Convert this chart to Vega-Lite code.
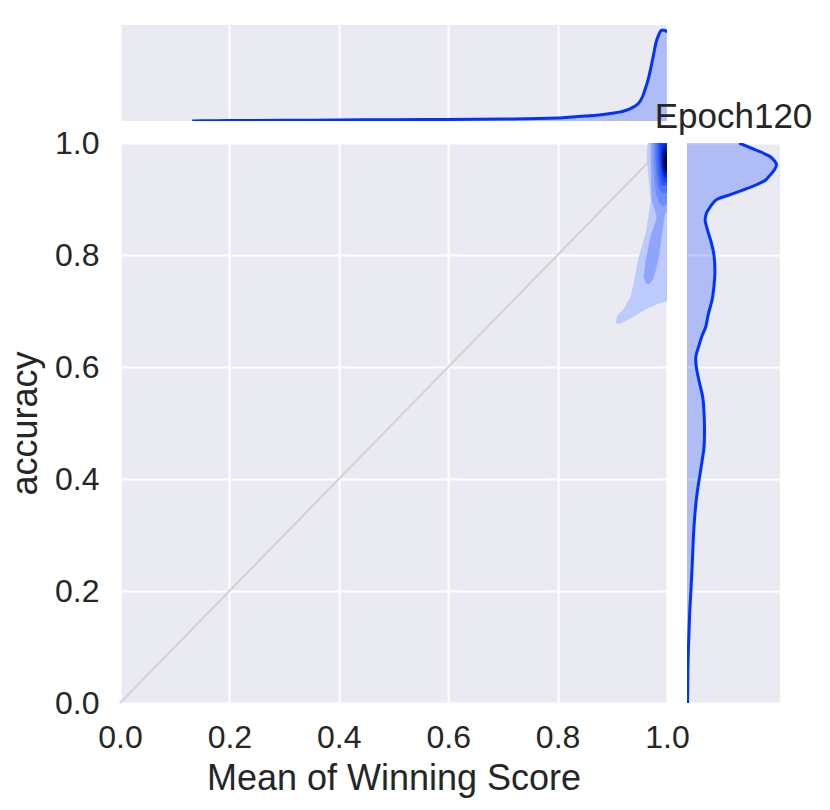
{
  "$schema": "https://vega.github.io/schema/vega-lite/v6.json",
  "padding": {"left": 7, "top": 25, "right": 5, "bottom": 5},
  "background": "white",
  "config": {
    "font": "Liberation Sans",
    "view": {"fill": "#eaeaf2", "stroke": null},
    "axis": {"gridColor": "white", "gridWidth": 2, "domain": false, "ticks": false, "labelFont": "Liberation Sans", "labelFontSize": 32, "labelColor": "#262626", "titleFont": "Liberation Sans", "titleFontSize": 36, "titleColor": "#262626", "titleFontWeight": "normal", "labelFlush": false}
  },
  "datasets": {
    "top": [
      {"score": 0.132, "density": 0.001}, {"score": 0.15, "density": 0.002}, {"score": 0.2, "density": 0.004},
      {"score": 0.3, "density": 0.007}, {"score": 0.4, "density": 0.011}, {"score": 0.5, "density": 0.014},
      {"score": 0.6, "density": 0.016}, {"score": 0.7, "density": 0.02}, {"score": 0.8, "density": 0.03},
      {"score": 0.82, "density": 0.04}, {"score": 0.85, "density": 0.052}, {"score": 0.88, "density": 0.065},
      {"score": 0.9, "density": 0.08}, {"score": 0.915, "density": 0.095}, {"score": 0.93, "density": 0.12},
      {"score": 0.94, "density": 0.15}, {"score": 0.95, "density": 0.2}, {"score": 0.955, "density": 0.25},
      {"score": 0.96, "density": 0.33}, {"score": 0.965, "density": 0.42}, {"score": 0.97, "density": 0.54},
      {"score": 0.975, "density": 0.68}, {"score": 0.98, "density": 0.82}, {"score": 0.985, "density": 0.9},
      {"score": 0.99, "density": 0.945}, {"score": 0.995, "density": 0.945}, {"score": 1.0, "density": 0.925}
    ],
    "right": [
      {"acc": 1.0, "density": 0.56}, {"acc": 0.9875, "density": 0.74}, {"acc": 0.975, "density": 0.9},
      {"acc": 0.961, "density": 0.962}, {"acc": 0.95, "density": 0.93}, {"acc": 0.94, "density": 0.88},
      {"acc": 0.934, "density": 0.846}, {"acc": 0.925, "density": 0.74}, {"acc": 0.916, "density": 0.6},
      {"acc": 0.907, "density": 0.45}, {"acc": 0.898, "density": 0.31}, {"acc": 0.886, "density": 0.25},
      {"acc": 0.875, "density": 0.21}, {"acc": 0.862, "density": 0.195}, {"acc": 0.845, "density": 0.22},
      {"acc": 0.82, "density": 0.265}, {"acc": 0.8, "density": 0.29}, {"acc": 0.768, "density": 0.3},
      {"acc": 0.745, "density": 0.29}, {"acc": 0.72, "density": 0.27}, {"acc": 0.695, "density": 0.23},
      {"acc": 0.671, "density": 0.2}, {"acc": 0.655, "density": 0.16}, {"acc": 0.639, "density": 0.13},
      {"acc": 0.618, "density": 0.095}, {"acc": 0.6, "density": 0.1}, {"acc": 0.575, "density": 0.13},
      {"acc": 0.545, "density": 0.17}, {"acc": 0.518, "density": 0.183}, {"acc": 0.49, "density": 0.188},
      {"acc": 0.457, "density": 0.183}, {"acc": 0.43, "density": 0.16}, {"acc": 0.398, "density": 0.13},
      {"acc": 0.37, "density": 0.105}, {"acc": 0.339, "density": 0.086}, {"acc": 0.3, "density": 0.07},
      {"acc": 0.25, "density": 0.057}, {"acc": 0.2, "density": 0.042}, {"acc": 0.161, "density": 0.029},
      {"acc": 0.12, "density": 0.02}, {"acc": 0.071, "density": 0.011}, {"acc": 0.03, "density": 0.008},
      {"acc": 0.0, "density": 0.006}
    ],
    "diag": [{"x": 0, "y": 0}, {"x": 1, "y": 1}],
    "contours": [
      {"level": 1, "i": 0, "x": 0.9653, "y": 1.0}, {"level": 1, "i": 1, "x": 0.9634, "y": 0.975},
      {"level": 1, "i": 2, "x": 0.9671, "y": 0.9339}, {"level": 1, "i": 3, "x": 0.9708, "y": 0.8982},
      {"level": 1, "i": 4, "x": 0.9671, "y": 0.8714}, {"level": 1, "i": 5, "x": 0.9616, "y": 0.8393},
      {"level": 1, "i": 6, "x": 0.9488, "y": 0.7964}, {"level": 1, "i": 7, "x": 0.9397, "y": 0.75},
      {"level": 1, "i": 8, "x": 0.9336, "y": 0.725}, {"level": 1, "i": 9, "x": 0.9214, "y": 0.7036},
      {"level": 1, "i": 10, "x": 0.9092, "y": 0.6911}, {"level": 1, "i": 11, "x": 0.9068, "y": 0.6786},
      {"level": 1, "i": 12, "x": 0.9123, "y": 0.6768}, {"level": 1, "i": 13, "x": 0.9305, "y": 0.6857},
      {"level": 1, "i": 14, "x": 0.9611, "y": 0.7036}, {"level": 1, "i": 15, "x": 0.9854, "y": 0.7143},
      {"level": 1, "i": 16, "x": 1.0, "y": 0.7179}, {"level": 1, "i": 17, "x": 1.0, "y": 1.0},

      {"level": 2, "i": 0, "x": 0.9708, "y": 1.0}, {"level": 2, "i": 1, "x": 0.9708, "y": 0.9696},
      {"level": 2, "i": 2, "x": 0.9717, "y": 0.9339}, {"level": 2, "i": 3, "x": 0.9726, "y": 0.8982},
      {"level": 2, "i": 4, "x": 0.9781, "y": 0.8804}, {"level": 2, "i": 5, "x": 0.9817, "y": 0.8696},
      {"level": 2, "i": 6, "x": 0.9793, "y": 0.8589}, {"level": 2, "i": 7, "x": 0.9702, "y": 0.8321},
      {"level": 2, "i": 8, "x": 0.9616, "y": 0.7911}, {"level": 2, "i": 9, "x": 0.958, "y": 0.7607},
      {"level": 2, "i": 10, "x": 0.9616, "y": 0.75}, {"level": 2, "i": 11, "x": 0.9671, "y": 0.7482},
      {"level": 2, "i": 12, "x": 0.9744, "y": 0.7571}, {"level": 2, "i": 13, "x": 0.9793, "y": 0.7732},
      {"level": 2, "i": 14, "x": 0.9854, "y": 0.8}, {"level": 2, "i": 15, "x": 0.989, "y": 0.8268},
      {"level": 2, "i": 16, "x": 0.9927, "y": 0.8536}, {"level": 2, "i": 17, "x": 0.9954, "y": 0.8714},
      {"level": 2, "i": 18, "x": 1.0, "y": 0.8804}, {"level": 2, "i": 19, "x": 1.0, "y": 1.0},

      {"level": 3, "i": 0, "x": 0.9757, "y": 1.0}, {"level": 3, "i": 1, "x": 0.9757, "y": 0.9696},
      {"level": 3, "i": 2, "x": 0.9775, "y": 0.9339}, {"level": 3, "i": 3, "x": 0.9812, "y": 0.9071},
      {"level": 3, "i": 4, "x": 0.9865, "y": 0.8929}, {"level": 3, "i": 5, "x": 0.9927, "y": 0.8875},
      {"level": 3, "i": 6, "x": 1.0, "y": 0.8915}, {"level": 3, "i": 7, "x": 1.0, "y": 1.0},

      {"level": 4, "i": 0, "x": 0.9795, "y": 1.0}, {"level": 4, "i": 1, "x": 0.9798, "y": 0.9696},
      {"level": 4, "i": 2, "x": 0.9818, "y": 0.9429}, {"level": 4, "i": 3, "x": 0.9848, "y": 0.9214},
      {"level": 4, "i": 4, "x": 0.9905, "y": 0.911}, {"level": 4, "i": 5, "x": 1.0, "y": 0.911},
      {"level": 4, "i": 6, "x": 1.0, "y": 1.0},

      {"level": 5, "i": 0, "x": 0.9838, "y": 1.0}, {"level": 5, "i": 1, "x": 0.9843, "y": 0.9696},
      {"level": 5, "i": 2, "x": 0.9862, "y": 0.9429}, {"level": 5, "i": 3, "x": 0.9903, "y": 0.9255},
      {"level": 5, "i": 4, "x": 1.0, "y": 0.9235}, {"level": 5, "i": 5, "x": 1.0, "y": 1.0},

      {"level": 6, "i": 0, "x": 0.9868, "y": 1.0}, {"level": 6, "i": 1, "x": 0.9878, "y": 0.9696},
      {"level": 6, "i": 2, "x": 0.99, "y": 0.9482}, {"level": 6, "i": 3, "x": 0.994, "y": 0.9325},
      {"level": 6, "i": 4, "x": 1.0, "y": 0.9305}, {"level": 6, "i": 5, "x": 1.0, "y": 1.0},

      {"level": 7, "i": 0, "x": 0.9925, "y": 0.996}, {"level": 7, "i": 1, "x": 0.99, "y": 0.985},
      {"level": 7, "i": 2, "x": 0.99, "y": 0.9696}, {"level": 7, "i": 3, "x": 0.992, "y": 0.9505},
      {"level": 7, "i": 4, "x": 0.996, "y": 0.9395}, {"level": 7, "i": 5, "x": 1.0, "y": 0.9395},
      {"level": 7, "i": 6, "x": 1.0, "y": 0.998},

      {"level": 8, "i": 0, "x": 0.9955, "y": 0.991}, {"level": 8, "i": 1, "x": 0.993, "y": 0.98},
      {"level": 8, "i": 2, "x": 0.993, "y": 0.9607}, {"level": 8, "i": 3, "x": 0.9958, "y": 0.947},
      {"level": 8, "i": 4, "x": 1.0, "y": 0.947}, {"level": 8, "i": 5, "x": 1.0, "y": 0.99},

      {"level": 9, "i": 0, "x": 0.9975, "y": 0.984}, {"level": 9, "i": 1, "x": 0.995, "y": 0.975},
      {"level": 9, "i": 2, "x": 0.995, "y": 0.9607}, {"level": 9, "i": 3, "x": 0.9978, "y": 0.951},
      {"level": 9, "i": 4, "x": 1.0, "y": 0.951}, {"level": 9, "i": 5, "x": 1.0, "y": 0.981}
    ]
  },
  "bounds": "flush",
  "spacing": 22,
  "vconcat": [
    {
      "width": 547,
      "height": 96,
      "data": {"name": "top"},
      "layer": [
        {
          "mark": {"type": "area", "color": "#0033ff", "opacity": 0.25, "clip": true, "interpolate": "monotone"},
          "encoding": {
            "x": {"field": "score", "type": "quantitative", "scale": {"domain": [0, 1]},
                  "axis": {"grid": true, "labels": false, "title": null, "values": [0, 0.2, 0.4, 0.6, 0.8, 1.0]}},
            "y": {"field": "density", "type": "quantitative", "scale": {"domain": [0, 1]}, "axis": null}
          }
        },
        {
          "mark": {"type": "line", "color": "#0033ff", "strokeWidth": 3, "clip": true, "interpolate": "monotone"},
          "encoding": {
            "x": {"field": "score", "type": "quantitative"},
            "y": {"field": "density", "type": "quantitative"}
          }
        }
      ]
    },
    {
      "bounds": "flush",
      "spacing": 20,
      "hconcat": [
        {
          "width": 547,
          "height": 560,
          "layer": [
            {
              "data": {"name": "diag"},
              "mark": {"type": "line", "color": "#d3d3d3", "strokeWidth": 2.2},
              "encoding": {
                "x": {"field": "x", "type": "quantitative", "scale": {"domain": [0, 1]},
                      "axis": {"title": "Mean of Winning Score", "values": [0, 0.2, 0.4, 0.6, 0.8, 1.0], "format": ".1f", "labelPadding": 19, "titlePadding": 8, "grid": true}},
                "y": {"field": "y", "type": "quantitative", "scale": {"domain": [0, 1]},
                      "axis": {"title": "accuracy", "values": [0, 0.2, 0.4, 0.6, 0.8, 1.0], "format": ".1f", "labelPadding": 21, "titlePadding": 10, "grid": true}}
              }
            },
            {
              "data": {"name": "contours"},
              "mark": {"type": "line", "interpolate": "linear-closed", "strokeWidth": 0.6, "clip": true},
              "encoding": {
                "x": {"field": "x", "type": "quantitative"},
                "y": {"field": "y", "type": "quantitative"},
                "detail": {"field": "level", "type": "ordinal"},
                "order": {"field": "i", "type": "quantitative"},
                "fill": {"field": "level", "type": "ordinal", "legend": null,
                         "scale": {"domain": [1, 2, 3, 4, 5, 6, 7, 8, 9], "range": ["#bdcafc", "#8ea5fb", "#6f8cfb", "#5073fa", "#2f57f7", "#1040f0", "#0628c4", "#04178a", "#000a35"]}},
                "stroke": {"field": "level", "type": "ordinal", "legend": null,
                         "scale": {"domain": [1, 2, 3, 4, 5, 6, 7, 8, 9], "range": ["#bdcafc", "#8ea5fb", "#6f8cfb", "#5073fa", "#2f57f7", "#1040f0", "#0628c4", "#04178a", "#000a35"]}}
              }
            }
          ]
        },
        {
          "width": 93,
          "height": 560,
          "title": {"text": "Epoch120", "fontSize": 35, "font": "Liberation Sans", "fontWeight": "normal", "color": "#262626", "anchor": "middle", "offset": -20, "baseline": "alphabetic"},
          "data": {"name": "right"},
          "layer": [
            {
              "mark": {"type": "area", "orient": "horizontal", "color": "#0033ff", "opacity": 0.25, "clip": true, "interpolate": "catmull-rom"},
              "encoding": {
                "y": {"field": "acc", "type": "quantitative", "scale": {"domain": [0, 1]},
                      "axis": {"grid": true, "labels": false, "title": null, "values": [0, 0.2, 0.4, 0.6, 0.8, 1.0]}},
                "x": {"field": "density", "type": "quantitative", "scale": {"domain": [0, 1]}, "axis": null}
              }
            },
            {
              "mark": {"type": "line", "color": "#0033ff", "strokeWidth": 3, "clip": true, "interpolate": "catmull-rom"},
              "encoding": {
                "y": {"field": "acc", "type": "quantitative"},
                "x": {"field": "density", "type": "quantitative"},
                "order": {"field": "acc", "type": "quantitative"}
              }
            }
          ]
        }
      ]
    }
  ]
}
